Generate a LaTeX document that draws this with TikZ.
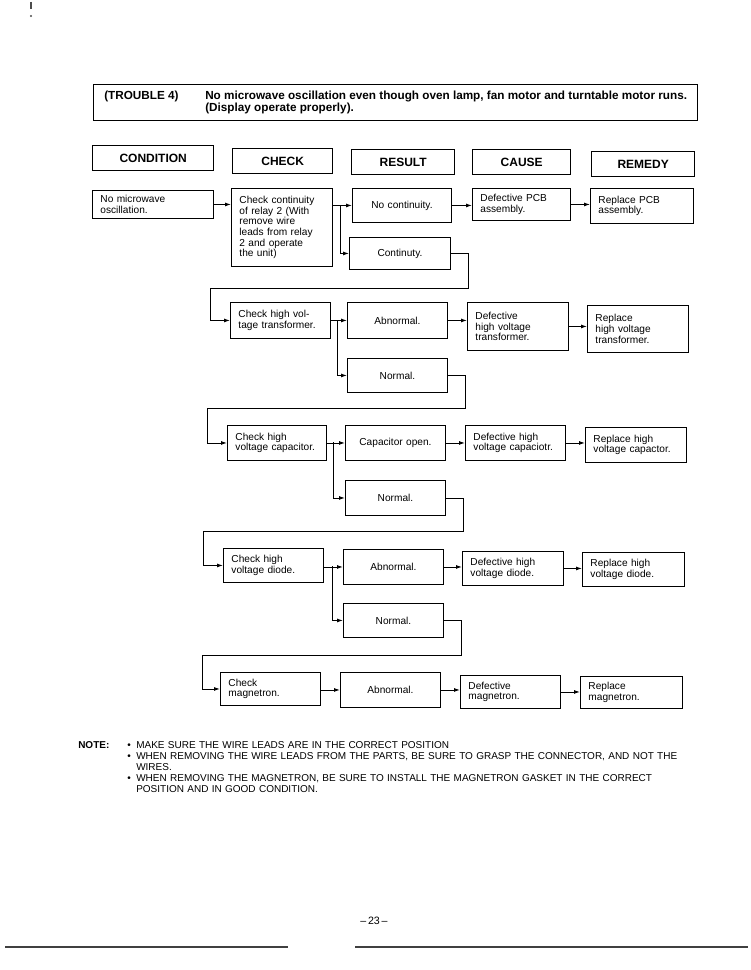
\documentclass[tikz,border=0pt]{standalone}
\usepackage{fontspec}
\setmainfont{Liberation Sans}
\usetikzlibrary{arrows.meta}

\begin{document}
\begin{tikzpicture}[x=0.75pt,y=-0.75pt,
  font=\fontsize{7.6}{8}\selectfont,
  hdr/.style={draw,line width=1pt,anchor=north west,minimum width=#1*0.75pt,
    minimum height=25*0.75pt,inner sep=0pt,font=\fontsize{9}{10}\selectfont\bfseries},
  cell/.style={draw,line width=0.7pt,anchor=north west,align=left,text width=#1,
    inner xsep=6pt,inner ysep=1pt},
  cell/.default=63pt,
  midcell/.style={cell=#1,align=center},
  midcell/.default=63pt,
  boxh/.style={minimum height=#1*0.75pt},
  arr/.style={-{Latex[length=4.5pt,width=3pt]},line width=0.7pt},
  wire/.style={line width=0.7pt}]
\useasboundingbox (0,0) rectangle (750,970);

\draw[line width=1pt,black!70] (31,2)--(31,9);
\fill[black!70] (31,16) circle (0.9pt);

\node[draw,line width=1pt,anchor=north west,minimum width=604*0.75pt,
  minimum height=36*0.75pt,inner sep=0pt] (title) at (93,84) {};
\node[anchor=north west,inner sep=0pt,font=\fontsize{8.8}{9}\selectfont\bfseries]
  (tnum) at (104,91) {(TROUBLE 4)};
\node[anchor=north west,inner sep=0pt,align=left,font=\fontsize{8.8}{9}\selectfont\bfseries]
  (ttext) at (205,91) {No microwave oscillation even though oven lamp, fan motor and turntable motor runs.\\(Display operate properly).};

\node[hdr=121] (hcond) at (92,145) {CONDITION};
\node[hdr=100] (hcheck) at (232,148) {CHECK};
\node[hdr=103] (hres) at (351,149) {RESULT};
\node[hdr=98] (hcause) at (472,149) {CAUSE};
\node[hdr=103] (hrem) at (591,151) {REMEDY};

\node[cell=78.75pt,boxh=28] (cond) at (92,190) {No microwave\\oscillation.};
\node[cell=63.75pt,boxh=78] (chk1) at (231,188) {Check continuity\\of relay 2 (With\\remove wire\\leads from relay\\2 and operate\\the unit)};
\node[midcell=62.25pt,boxh=34] (res1a) at (352,188) {No continuity.};
\node[midcell=63.75pt,boxh=32] (res1b) at (349,237) {Continuty.};
\node[cell=61.5pt,boxh=32] (cau1) at (472,188) {Defective PCB\\assembly.};
\node[cell=65.25pt,boxh=35] (rem1) at (590,188) {Replace PCB\\assembly.};

\node[cell,boxh=36] (chk2) at (230,302) {Check high vol-\\tage transformer.};
\node[midcell,boxh=36] (res2a) at (347,302) {Abnormal.};
\node[midcell,boxh=34] (res2b) at (347,358) {Normal.};
\node[cell=63.75pt,boxh=48] (cau2) at (467,302) {Defective\\high voltage\\transformer.};
\node[cell=63.75pt,boxh=47] (rem2) at (587,305) {Replace\\high voltage\\transformer.};

\node[cell=62.25pt,boxh=35] (chk3) at (227,425) {Check high\\voltage capacitor.};
\node[midcell,boxh=35] (res3a) at (345,425) {Capacitor open.};
\node[midcell,boxh=35] (res3b) at (345,480) {Normal.};
\node[cell,boxh=35] (cau3) at (465,425) {Defective high\\voltage capaciotr.};
\node[cell=63.75pt,boxh=35] (rem3) at (585,427) {Replace high\\voltage capactor.};

\node[cell,boxh=34] (chk4) at (223,548) {Check high\\voltage diode.};
\node[midcell,boxh=35] (res4a) at (343,549) {Abnormal.};
\node[midcell,boxh=34] (res4b) at (343,603) {Normal.};
\node[cell=63.75pt,boxh=34] (cau4) at (462,551) {Defective high\\voltage diode.};
\node[cell=64.5pt,boxh=34] (rem4) at (582,552) {Replace high\\voltage diode.};

\node[cell,boxh=33] (chk5) at (220,672) {Check\\magnetron.};
\node[midcell,boxh=35] (res5) at (340,672) {Abnormal.};
\node[cell,boxh=33] (cau5) at (460,675) {Defective\\magnetron.};
\node[cell=64.5pt,boxh=32] (rem5) at (580,676) {Replace\\magnetron.};

\coordinate (br1) at (340,205);
\coordinate (br2) at (337,320);
\coordinate (br3) at (333,442);
\coordinate (br4) at (332,566);
\coordinate (ret1) at (468,288);
\coordinate (ret1a) at (210,288);
\coordinate (ret2) at (465,408);
\coordinate (ret2a) at (207,408);
\coordinate (ret3) at (463,531);
\coordinate (ret3a) at (203,531);
\coordinate (ret4) at (461,655);
\coordinate (ret4a) at (202,655);

\draw[arr] (cond.east) -- (cond.east -| chk1.west);
\draw[arr] (chk1.east |- res1a.west) -- (res1a.west);
\draw[arr] (br1) |- (res1b.west);
\draw[arr] (res1a.east) -- (res1a.east -| cau1.west);
\draw[arr] (cau1.east) -- (cau1.east -| rem1.west);
\draw[arr] (res1b.east) -| (ret1) -- (ret1a) |- (chk2.west);

\draw[arr] (chk2.east |- res2a.west) -- (res2a.west);
\draw[arr] (br2) |- (res2b.west);
\draw[arr] (res2a.east) -- (res2a.east -| cau2.west);
\draw[arr] (cau2.east) -- (cau2.east -| rem2.west);
\draw[arr] (res2b.east) -| (ret2) -- (ret2a) |- (chk3.west);

\draw[arr] (chk3.east |- res3a.west) -- (res3a.west);
\draw[arr] (br3) |- (res3b.west);
\draw[arr] (res3a.east) -- (res3a.east -| cau3.west);
\draw[arr] (cau3.east) -- (cau3.east -| rem3.west);
\draw[arr] (res3b.east) -| (ret3) -- (ret3a) |- (chk4.west);

\draw[arr] (chk4.east |- res4a.west) -- (res4a.west);
\draw[arr] (br4) |- (res4b.west);
\draw[arr] (res4a.east) -- (res4a.east -| cau4.west);
\draw[arr] (cau4.east) -- (cau4.east -| rem4.west);
\draw[arr] (res4b.east) -| (ret4) -- (ret4a) |- (chk5.west);

\draw[arr] (chk5.east |- res5.west) -- (res5.west);
\draw[arr] (res5.east) -- (res5.east -| cau5.west);
\draw[arr] (cau5.east) -- (cau5.east -| rem5.west);

\node[anchor=north west,inner sep=0pt,font=\fontsize{7.5}{8}\selectfont\bfseries]
  (notehd) at (78,741) {NOTE:};
\node[anchor=north west,inner sep=0pt,text width=408pt,font=\fontsize{7.5}{8.25}\selectfont]
  (notes) at (136,741) {\parindent=0pt\hyphenpenalty=10000
\leavevmode\llap{\textbullet\hspace{4pt}}MAKE SURE THE WIRE LEADS ARE IN THE CORRECT POSITION\par
\leavevmode\llap{\textbullet\hspace{4pt}}WHEN REMOVING THE WIRE LEADS FROM THE PARTS, BE SURE TO GRASP THE CONNECTOR, AND NOT THE\linebreak WIRES.\par
\leavevmode\llap{\textbullet\hspace{4pt}}WHEN REMOVING THE MAGNETRON, BE SURE TO INSTALL THE MAGNETRON GASKET IN THE CORRECT\linebreak POSITION AND IN GOOD CONDITION.};

\node[font=\fontsize{8}{9}\selectfont] (page) at (374,921) {\textendash\,23\,\textendash};
\draw[line width=0.9pt,black!75] (5,947) -- (288,947) (355,947) -- (748,947);
\end{tikzpicture}
\end{document}
